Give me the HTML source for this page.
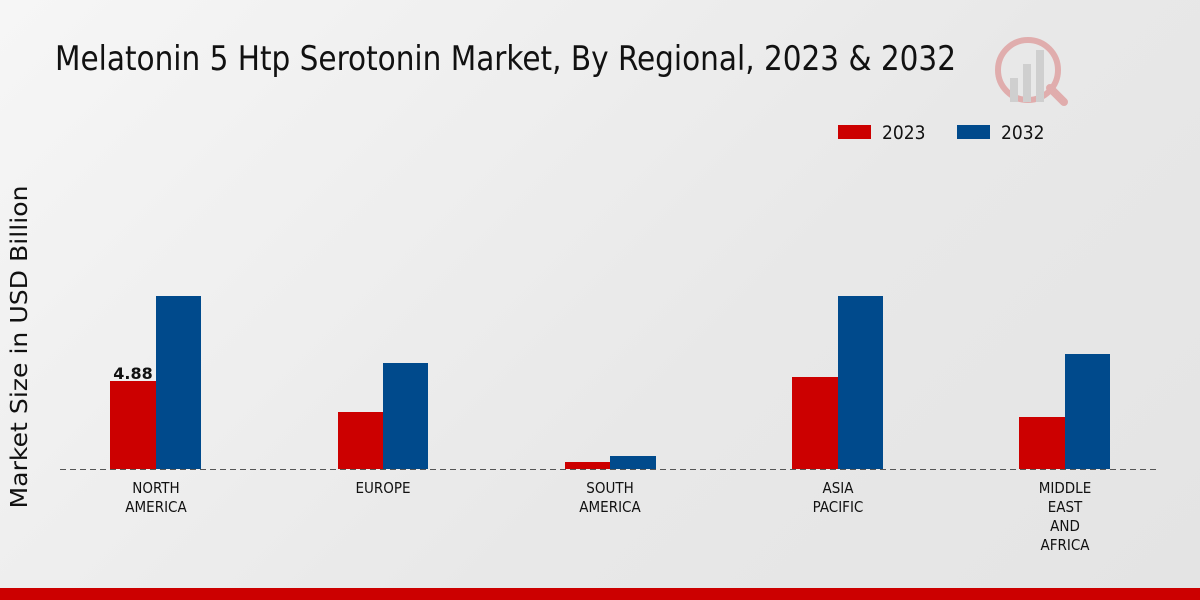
<!DOCTYPE html>
<html><head><meta charset="utf-8"><style>
body{margin:0;width:1200px;height:600px;overflow:hidden;background:linear-gradient(135deg,#f6f6f6 0%,#e8e8e8 60%,#e4e4e4 100%);font-family:"DejaVu Sans Condensed","Liberation Sans",sans-serif;}
</style></head><body>
<svg width="1200" height="600" xmlns="http://www.w3.org/2000/svg" style="position:absolute;left:0;top:0">
<text x="55" y="70" font-size="34" fill="#111" textLength="901" lengthAdjust="spacingAndGlyphs">Melatonin 5 Htp Serotonin Market, By Regional, 2023 &amp; 2032</text>
<g opacity="0.25">
<circle cx="1028" cy="70" r="30" fill="none" stroke="#c00" stroke-width="6"/>
<rect x="1010" y="78" width="8" height="24" fill="#888"/><rect x="1023" y="64" width="8" height="38" fill="#888"/><rect x="1036" y="50" width="8" height="52" fill="#888"/>
<line x1="1050" y1="88" x2="1064" y2="102" stroke="#c00" stroke-width="8" stroke-linecap="round"/>
</g>
<rect x="838" y="125" width="33" height="14" fill="#cc0000"/>
<text x="882" y="139" font-size="19" fill="#111">2023</text>
<rect x="957" y="125" width="33" height="14" fill="#004a8c"/>
<text x="1001" y="139" font-size="19" fill="#111">2032</text>
<text transform="translate(27,347) rotate(-90)" font-size="23" fill="#111" text-anchor="middle" textLength="323" lengthAdjust="spacingAndGlyphs" font-family="DejaVu Sans,sans-serif">Market Size in USD Billion</text>
<g fill="#cc0000">
<rect x="110" y="381" width="46" height="88"/><rect x="338" y="412" width="45" height="57"/><rect x="565" y="462" width="45" height="7"/><rect x="792" y="377" width="46" height="92"/><rect x="1019" y="417" width="46" height="52"/>
</g>
<g fill="#004a8c">
<rect x="156" y="296" width="45" height="173"/><rect x="383" y="363" width="45" height="106"/><rect x="610" y="456" width="46" height="13"/><rect x="838" y="296" width="45" height="173"/><rect x="1065" y="354" width="45" height="115"/>
</g>
<line x1="60" y1="469.5" x2="1160" y2="469.5" stroke="#555" stroke-dasharray="6,4"/>
<text x="133" y="379" font-size="16" font-weight="bold" text-anchor="middle" font-family="DejaVu Sans,sans-serif" fill="#111">4.88</text>
<g font-size="15" fill="#111" text-anchor="middle">
<text x="156" y="493">NORTH</text><text x="156" y="512">AMERICA</text>
<text x="383" y="493">EUROPE</text>
<text x="610" y="493">SOUTH</text><text x="610" y="512">AMERICA</text>
<text x="838" y="493">ASIA</text><text x="838" y="512">PACIFIC</text>
<text x="1065" y="493">MIDDLE</text><text x="1065" y="512">EAST</text><text x="1065" y="531">AND</text><text x="1065" y="550">AFRICA</text>
</g>
<rect x="0" y="588" width="1200" height="12" fill="#cc0000"/>
</svg>
</body></html>
